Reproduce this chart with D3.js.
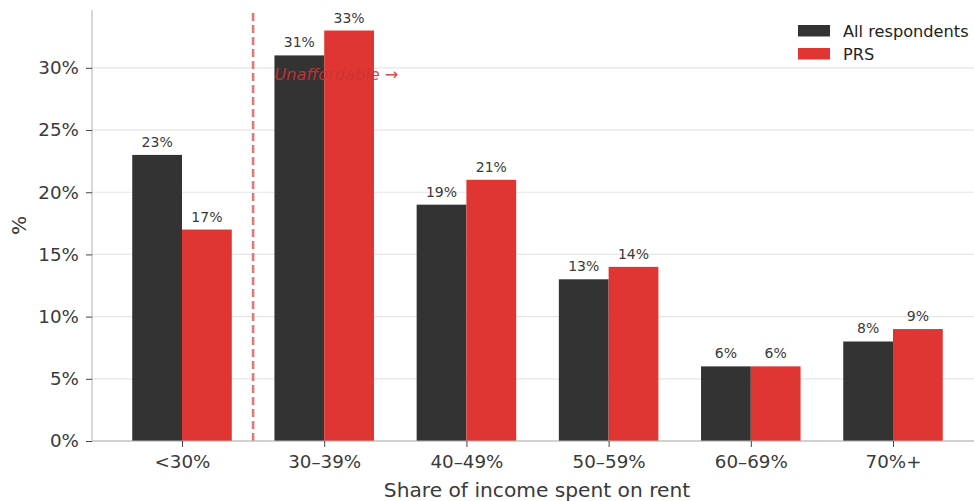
<!DOCTYPE html>
<html><head><meta charset="utf-8">
<script src="https://cdn.jsdelivr.net/npm/d3@7"></script>
<style>body{margin:0;background:#fff}svg{display:block;font-family:"DejaVu Sans",sans-serif}</style>
</head><body><svg id="c" width="974" height="501"></svg>
<script>
const categories = ["<30%","30–39%","40–49%","50–59%","60–69%","70%+"];
const seriesNames = ["All respondents","PRS"];
const allRespondents = [23,31,19,13,6,8];
const prs = [17,33,21,14,6,9];
const yTicks = [0,5,10,15,20,25,30];
const colors = ["#333333","#e03633"];

const svg = d3.select("#c");
const mLeft = 92, mBottom = 441, mTop = 10;
const step = 142.2;
const x = d3.scaleLinear().domain([-0.633, 5.633]).range([mLeft, mLeft + step*6.266]);
const y = d3.scaleLinear().domain([0, 34.65]).range([mBottom, mTop]);
const barW = 0.35;

// grid
svg.append("g").selectAll("line").data(yTicks).join("line")
  .attr("x1", mLeft).attr("x2", 974).attr("y1", d=>y(d)).attr("y2", d=>y(d))
  .attr("stroke","#e6e6e6").attr("stroke-width",1.2);

const series = [allRespondents, prs];
series.forEach((vals, si) => {
  const off = si === 0 ? -barW : 0;
  svg.append("g").selectAll("rect").data(vals).join("rect")
    .attr("x", (d,i)=>x(i+off)).attr("width", x(barW)-x(0))
    .attr("y", d=>y(d)).attr("height", d=>y(0)-y(d))
    .attr("fill", colors[si]);
  svg.append("g").selectAll("text").data(vals).join("text")
    .attr("x",(d,i)=>x(i+off+barW/2)).attr("y", d=>y(d)-8)
    .attr("text-anchor","middle").attr("font-size",14).attr("fill","#3a3a3a")
    .text(d=>d+"%");
});

// dashed line
svg.append("line").attr("x1",x(0.5)).attr("x2",x(0.5)).attr("y1",mTop+3).attr("y2",mBottom)
  .attr("stroke","#e07878").attr("stroke-width",2.6).attr("stroke-dasharray","8,4");
svg.append("text").attr("x",x(0.65)).attr("y",y(29.5)).attr("dy","0.35em")
  .attr("font-size",16.2).attr("font-style","italic").attr("fill","#cc3333").attr("fill-opacity",0.9)
  .text("Unaffordable →");

// axes
const yAxis = svg.append("g").attr("transform",`translate(${mLeft},0)`)
  .call(d3.axisLeft(y).tickValues(yTicks).tickFormat(d=>d+"%").tickSize(6).tickPadding(7));
yAxis.select(".domain").attr("stroke","#b0b0b0").attr("d",`M-0,${mBottom}V${mTop}`);
yAxis.selectAll(".tick line").attr("stroke","#444");
yAxis.selectAll(".tick text").attr("font-size",18.3).attr("fill","#3a3a3a").attr("font-family","DejaVu Sans");

const xAxis = svg.append("g").attr("transform",`translate(0,${mBottom})`)
  .call(d3.axisBottom(x).tickValues(d3.range(categories.length)).tickFormat(i=>categories[i]).tickSize(6).tickPadding(8));
xAxis.select(".domain").attr("stroke","#b0b0b0").attr("d",`M${mLeft},0H974`);
xAxis.selectAll(".tick line").attr("stroke","#444");
xAxis.selectAll(".tick text").attr("font-size",18.3).attr("fill","#3a3a3a").attr("font-family","DejaVu Sans");

svg.append("text").attr("x",537).attr("y",497).attr("text-anchor","middle")
  .attr("font-size",20.2).attr("fill","#3a3a3a").text("Share of income spent on rent");
svg.append("text").attr("transform",`translate(26,${(mTop+mBottom)/2}) rotate(-90)`).attr("text-anchor","middle")
  .attr("font-size",20.2).attr("fill","#3a3a3a").text("%");

// legend
const lg = svg.append("g");
seriesNames.forEach((n,i)=>{
  lg.append("rect").attr("x",798).attr("y",25+i*23).attr("width",32).attr("height",11.5).attr("fill",colors[i]);
  lg.append("text").attr("x",843).attr("y",31+i*23).attr("dy","0.35em").attr("font-size",16.2).attr("fill","#222").text(n);
});
</script></body></html>
